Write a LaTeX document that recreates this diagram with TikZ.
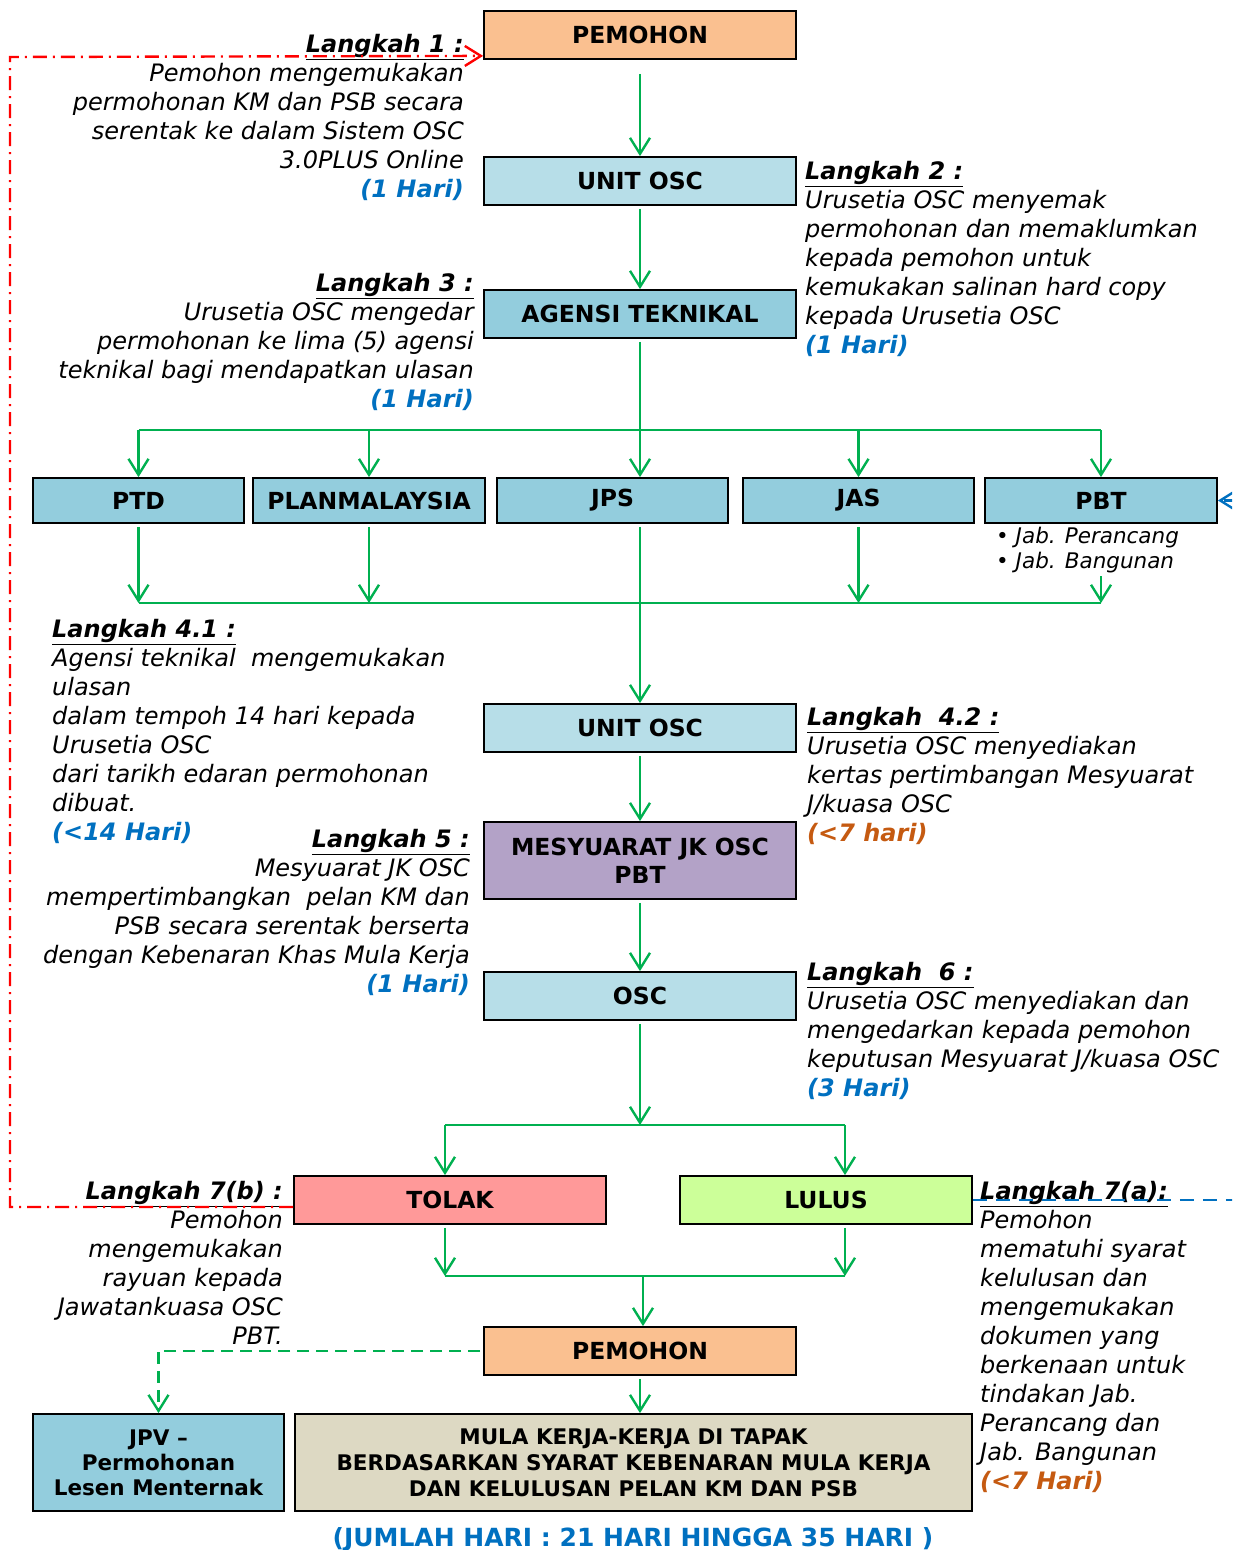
\documentclass[tikz,border=0pt]{standalone}
\usepackage{fontspec}
\setmainfont{DejaVu Sans}
\usetikzlibrary{arrows.meta}

\definecolor{hijau}{HTML}{00B050}
\definecolor{oren}{HTML}{FAC090}
\definecolor{birumuda}{HTML}{B7DEE8}
\definecolor{birutua}{HTML}{93CDDD}
\definecolor{ungu}{HTML}{B3A2C7}
\definecolor{jambu}{HTML}{FF9999}
\definecolor{hijaumuda}{HTML}{CCFF99}
\definecolor{krim}{HTML}{DDD9C3}
\definecolor{biruteks}{HTML}{0070C0}
\definecolor{orenteks}{HTML}{C55A11}

\newcommand{\tajuk}[1]{{\bfseries\underline{#1}}}
\newcommand{\hari}[1]{{\bfseries\color{biruteks}#1}}
\newcommand{\harioren}[1]{{\bfseries\color{orenteks}#1}}

\tikzstyle{kotak} = [draw=black, line width=1.8pt, minimum width=312pt, minimum height=48pt, inner sep=2pt, align=center, font=\fontsize{23.5}{28}\selectfont\bfseries]
\tikzstyle{agensi} = [kotak, fill=birutua, minimum height=45pt]
\tikzstyle{langkah} = [inner sep=0pt, font=\fontsize{24}{29}\selectfont\itshape]
\tikzstyle{paip} = [hijau, line width=2.4pt]
\tikzstyle{garis} = [paip, shorten <=3pt, -{Straight Barb[length=16pt,width=20pt]}]

\begin{document}
\begin{tikzpicture}[x=1pt,y=-1pt]
	\clip (0,0) rectangle (1232,1550);

	% kotak utama
	\node[kotak, fill=oren] (pemohon) at (640,35) {PEMOHON};
	\node[kotak, fill=birumuda] (unit1) at (640,181) {UNIT OSC};
	\node[kotak, fill=birutua] (agensi) at (640,314) {AGENSI TEKNIKAL};
	\node[agensi, minimum width=211pt] (ptd) at (138.5,500.5) {PTD};
	\node[agensi, minimum width=232pt] (plan) at (369,500.5) {PLANMALAYSIA};
	\node[agensi, minimum width=231pt] (jps) at (612.5,500.5) {JPS};
	\node[agensi, minimum width=231pt] (jas) at (858.5,500.5) {JAS};
	\node[agensi, minimum width=232pt] (pbt) at (1101,500.5) {PBT};
	\node[anchor=north west, inner sep=0pt, align=left, font=\fontsize{21.5}{25}\selectfont] (pbtjab) at (996,527) {• \textit{Jab. Perancang}\\• \textit{Jab. Bangunan}};
	\node[kotak, fill=birumuda] (unit2) at (640,728) {UNIT OSC};
	\node[kotak, fill=ungu, minimum height=77pt] (mesy) at (640,860.5) {MESYUARAT JK OSC\\PBT};
	\node[kotak, fill=birumuda] (osc) at (640,996) {OSC};
	\node[kotak, fill=jambu] (tolak) at (450,1200) {TOLAK};
	\node[kotak, fill=hijaumuda, minimum width=292pt] (lulus) at (826,1200) {LULUS};
	\node[kotak, fill=oren] (pemohon2) at (640,1351) {PEMOHON};
	\node[kotak, fill=birutua, minimum width=251pt, minimum height=97pt, font=\fontsize{21.5}{25}\selectfont\bfseries] (jpv) at (158.5,1462.5) {JPV –\\Permohonan\\Lesen Menternak};
	\node[kotak, fill=krim, minimum width=677pt, minimum height=97pt, font=\fontsize{21.5}{26}\selectfont\bfseries] (mula) at (633.5,1462.5) {MULA KERJA-KERJA DI TAPAK\\BERDASARKAN SYARAT KEBENARAN MULA KERJA\\DAN KELULUSAN PELAN KM DAN PSB};
	\node[font=\fontsize{25}{28}\selectfont\bfseries, text=biruteks] (jumlah) at (633,1539) {(JUMLAH HARI : 21 HARI HINGGA 35 HARI )};

	% langkah-langkah
	\node[langkah, anchor=north east, align=right] (l1) at (464,34) {\tajuk{Langkah 1 :}\\Pemohon mengemukakan\\permohonan KM dan PSB secara\\serentak ke dalam Sistem OSC\\3.0PLUS Online\\\hari{(1 Hari)}};
	\node[langkah, anchor=north west, align=left] (l2) at (805,161) {\tajuk{Langkah 2 :}\\Urusetia OSC menyemak\\permohonan dan memaklumkan\\kepada pemohon untuk\\kemukakan salinan hard copy\\kepada Urusetia OSC\\\hari{(1 Hari)}};
	\node[langkah, anchor=north east, align=right] (l3) at (474,273) {\tajuk{Langkah 3 :}\\Urusetia OSC mengedar\\permohonan ke lima (5) agensi\\teknikal bagi mendapatkan ulasan\\\hari{(1 Hari)}};
	\node[langkah, anchor=north west, align=left] (l41) at (52,619) {\tajuk{Langkah 4.1 :}\\Agensi teknikal~ mengemukakan\\ulasan\\dalam tempoh 14 hari kepada\\Urusetia OSC\\dari tarikh edaran permohonan\\dibuat.\\\hari{(<14 Hari)}};
	\node[langkah, anchor=north west, align=left] (l42) at (807,707) {\tajuk{Langkah~ 4.2 :}\\Urusetia OSC menyediakan\\kertas pertimbangan Mesyuarat\\J/kuasa OSC\\\harioren{(<7 hari)}};
	\node[langkah, anchor=north east, align=right] (l5) at (470,829) {\tajuk{Langkah 5 :}\\Mesyuarat JK OSC\\mempertimbangkan~ pelan KM dan\\PSB secara serentak berserta\\dengan Kebenaran Khas Mula Kerja\\\hari{(1 Hari)}};
	\node[langkah, anchor=north west, align=left] (l6) at (807,962) {\tajuk{Langkah~ 6 :}\\Urusetia OSC menyediakan dan\\mengedarkan kepada pemohon\\keputusan Mesyuarat J/kuasa OSC\\\hari{(3 Hari)}};
	\node[langkah, anchor=north east, align=right] (l7b) at (283,1181) {\tajuk{Langkah 7(b) :}\\Pemohon\\mengemukakan\\rayuan kepada\\Jawatankuasa OSC\\PBT.};
	\node[langkah, anchor=north west, align=left] (l7a) at (980,1181) {\tajuk{Langkah 7(a):}\\Pemohon\\mematuhi syarat\\kelulusan dan\\mengemukakan\\dokumen yang\\berkenaan untuk\\tindakan Jab.\\Perancang dan\\Jab. Bangunan\\\harioren{(<7 Hari)}};

	% aliran
	\coordinate (atas) at (640,430);
	\coordinate (tengah) at (640,603);
	\coordinate (kiri) at (445,1125);
	\coordinate (kanan) at (845,1125);
	\coordinate (gabung) at (643,1276);
	\coordinate (sudut) at (10,57);
	\coordinate (luar) at (1250,1200);

	\draw[garis, shorten <=14pt] (pemohon) -- (unit1);
	\draw[garis] (unit1) -- (agensi);
	\draw[garis] (agensi) -- (agensi.south |- jps.north);
	\draw[paip] (ptd.north |- atas) -- (pbt.north |- atas);
	\foreach \n in {ptd,plan,jas,pbt}
		\draw[garis, shorten <=0pt] (\n.north |- atas) -- (\n.north);
	\foreach \n in {ptd,plan,jas}
		\draw[garis] (\n.south) -- (\n.south |- tengah);
	\draw[garis] (pbt.south |- pbtjab.south) -- (pbt.south |- tengah);
	\draw[paip] (ptd.south |- tengah) -- (pbt.south |- tengah);
	\draw[garis] (agensi.south |- jps.south) -- (unit2);
	\draw[garis] (unit2) -- (mesy);
	\draw[garis] (mesy) -- (osc);
	\draw[garis] (osc) -- (osc.south |- kiri);
	\draw[paip] (kiri) -- (kanan);
	\draw[garis, shorten <=0pt] (kiri) -- (kiri |- tolak.north);
	\draw[garis, shorten <=0pt] (kanan) -- (kanan |- lulus.north);
	\draw[garis] (kiri |- tolak.south) -- (kiri |- gabung);
	\draw[garis] (kanan |- lulus.south) -- (kanan |- gabung);
	\draw[paip] (kiri |- gabung) -- (kanan |- gabung);
	\draw[garis, shorten <=0pt] (gabung) -- (gabung |- pemohon2.north);
	\draw[garis] (pemohon2) -- (pemohon2.south |- mula.north);
	\draw[garis, dash pattern=on 12pt off 7pt] (pemohon2) -| (jpv);

	% rayuan dan maklum balas
	\draw[red, line width=2.4pt, dash pattern=on 14pt off 6pt on 2pt off 6pt, -{Straight Barb[length=16pt,width=20pt]}] ([yshift=-7pt]tolak.west) -| (sudut) -- ([yshift=4pt]pemohon.south west);
	\draw[biruteks, line width=2.4pt, dash pattern=on 14pt off 9pt, -{Straight Barb[length=16pt,width=20pt]}] (lulus.east) -- (luar) |- (pbt.east);
\end{tikzpicture}
\end{document}
